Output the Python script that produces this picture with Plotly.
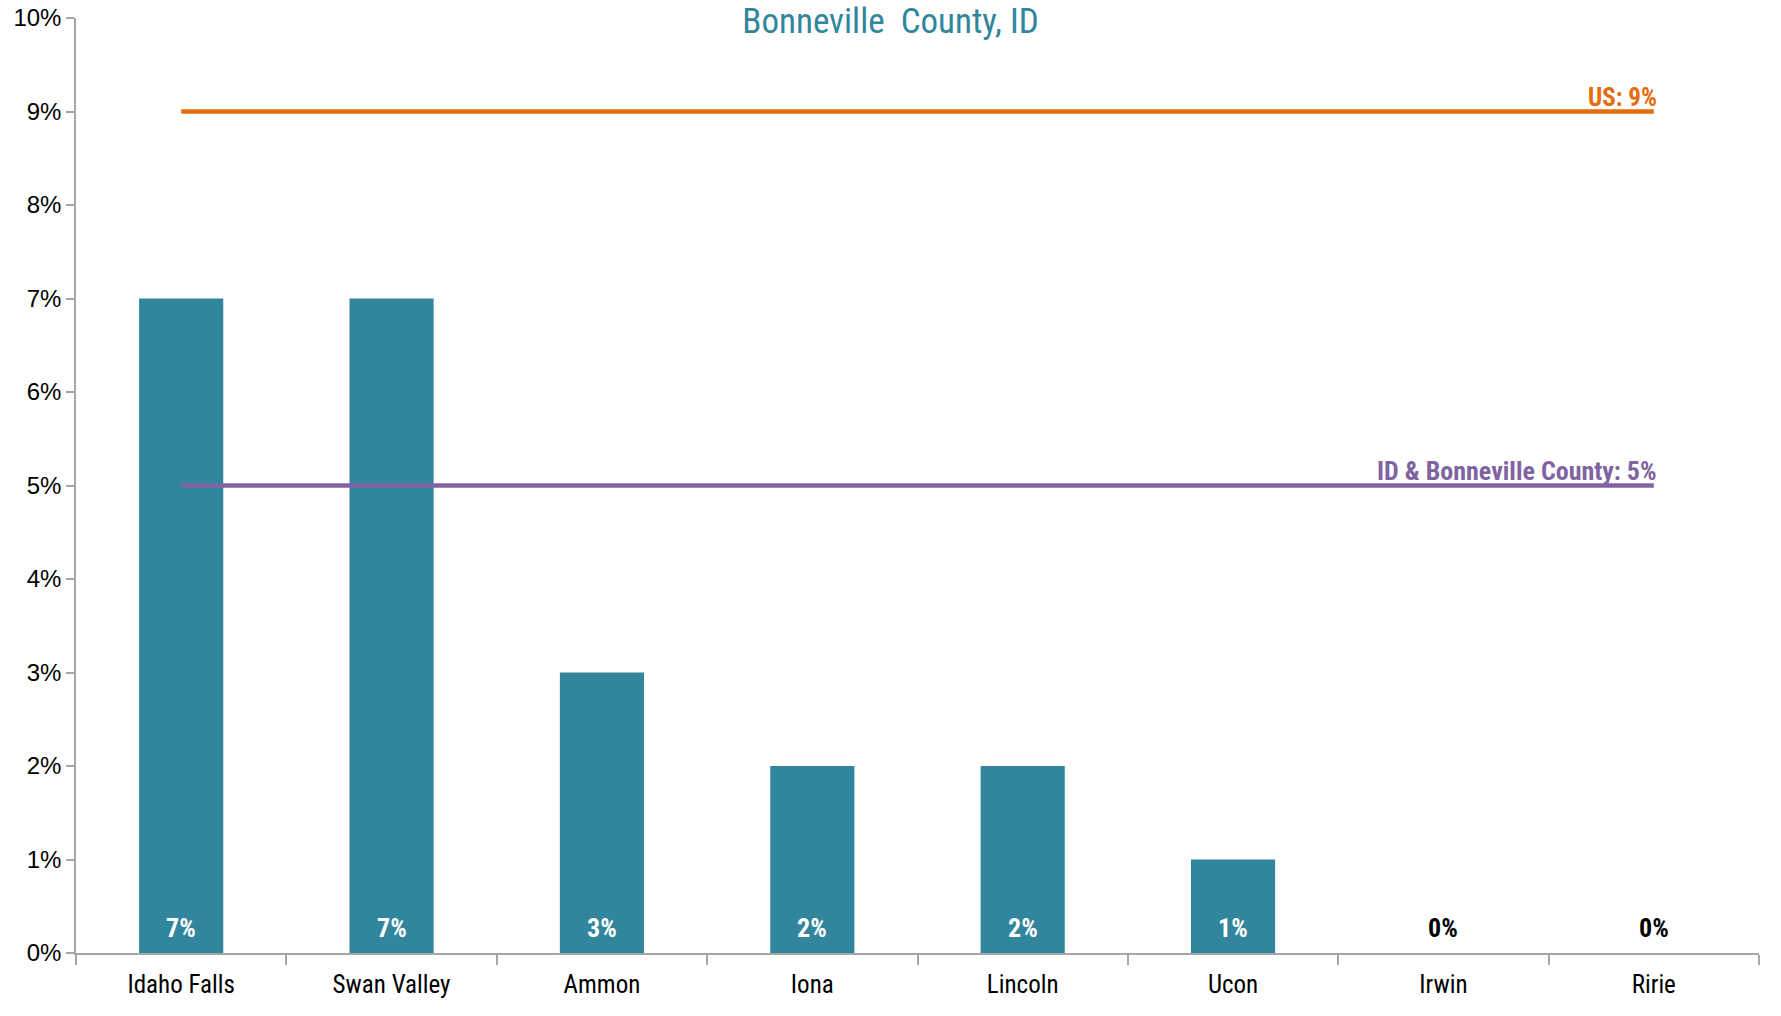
import plotly.graph_objects as go

# Share of population by place
places = ["Idaho Falls", "Swan Valley", "Ammon", "Iona", "Lincoln", "Ucon", "Irwin", "Ririe"]
shares = [7, 7, 3, 2, 2, 1, 0, 0]

# Reference levels
us_share = 9
id_share = 5
us_label = "US"
id_label = "ID & Bonneville County"

title_text = "Bonneville  County, ID"

TEAL = "#31859C"
ORANGE = "#E46C0A"
PURPLE = "#8064A2"
AXIS_GRAY = "#A6A6A6"
NARROW = "Liberation Sans Narrow, Arial Narrow, Roboto Condensed, DejaVu Sans Condensed, Liberation Sans, Arial, sans-serif"
REGULAR = "Liberation Sans, Arial, sans-serif"

fig = go.Figure()

fig.add_trace(go.Bar(
    x=places, y=shares,
    marker=dict(color=TEAL, line=dict(width=0)),
    hoverinfo="skip",
))

# Value labels sitting at the base of each bar
for place, v in zip(places, shares):
    fig.add_annotation(
        x=place, y=0, xref="x", yref="y",
        text=f"{v}%", showarrow=False,
        xanchor="center", yanchor="bottom", yshift=8,
        font=dict(family=NARROW, size=26, weight="bold",
                  color="white" if v > 0 else "black"),
    )

# Benchmark lines spanning first to last category
for level, color in [(us_share, ORANGE), (id_share, PURPLE)]:
    fig.add_trace(go.Scatter(
        x=[places[0], places[-1]], y=[level, level],
        mode="lines",
        line=dict(color=color, width=4.5),
        hoverinfo="skip",
    ))

for name, level, color, size in [(us_label, us_share, ORANGE, 25), (id_label, id_share, PURPLE, 26)]:
    fig.add_annotation(
        x=places[-1], y=level, xref="x", yref="y",
        text=f"{name}: {level}%",
        showarrow=False, xanchor="right", yanchor="bottom",
        xshift=5, yshift=-2,
        font=dict(family=NARROW, size=size, weight="bold", color=color),
    )

fig.update_layout(
    width=1781, height=1016,
    margin=dict(l=76, r=22, t=18, b=63),
    paper_bgcolor="white", plot_bgcolor="white",
    showlegend=False,
    bargap=0.6,
    title=dict(text=title_text, x=0.5, xanchor="center", y=1 - 21 / 1016, yanchor="middle",
               font=dict(family=NARROW, size=35, color=TEAL)),
)

fig.update_xaxes(
    showline=True, linecolor=AXIS_GRAY, linewidth=1.5,
    ticks="outside", ticklen=10, tickcolor=AXIS_GRAY, tickwidth=1.5,
    tickson="boundaries", ticklabelstandoff=8,
    showgrid=False, zeroline=False, automargin=False,
    tickfont=dict(family=NARROW, size=25, color="black"),
)

fig.update_yaxes(
    range=[0, 10], dtick=1, ticksuffix="%",
    showline=True, linecolor=AXIS_GRAY, linewidth=1.5,
    ticks="outside", ticklen=8, tickcolor=AXIS_GRAY, tickwidth=1.5,
    showgrid=False, zeroline=False, automargin=False,
    tickfont=dict(family=REGULAR, size=24, color="black"),
)

fig.write_html("out.html")
